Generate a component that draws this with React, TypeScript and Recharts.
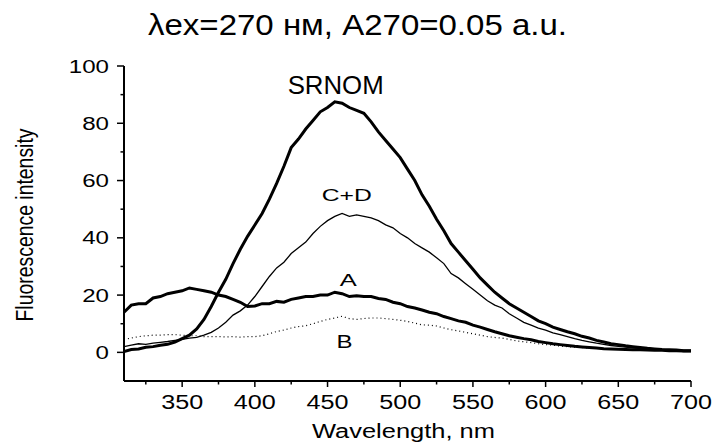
import React from "react";
import { LineChart, Line, XAxis, YAxis, ReferenceDot } from "recharts";

const wavelengths = [
  310, 315, 320, 325, 330, 335, 340, 345, 350, 355,
  360, 365, 370, 375, 380, 385, 390, 395, 400, 405,
  410, 415, 420, 425, 430, 435, 440, 445, 450, 455,
  460, 465, 470, 475, 480, 485, 490, 495, 500, 505,
  510, 515, 520, 525, 530, 535, 540, 545, 550, 555,
  560, 565, 570, 575, 580, 585, 590, 595, 600, 605,
  610, 615, 620, 625, 630, 635, 640, 645, 650, 655,
  660, 665, 670, 675, 680, 685, 690, 695, 700,
];

const srnom = [
  0.3, 1.0, 1.2, 1.8, 2.0, 2.5, 2.8, 3.6, 4.8, 6.0,
  8.2, 11.5, 16.0, 21.0, 25.5, 31.0, 36.0, 40.5, 44.5, 48.5,
  53.5, 59.0, 65.0, 71.5, 74.5, 78.0, 81.0, 84.0, 85.5, 87.5,
  87.0, 85.5, 84.5, 83.5, 80.5, 77.0, 74.0, 71.0, 68.0, 64.0,
  60.0, 55.0, 51.0, 46.5, 42.5, 38.0, 35.0, 32.0, 29.0, 26.0,
  23.5, 21.0, 19.0, 17.0, 15.5, 14.0, 12.5, 11.0, 10.0, 8.8,
  8.0, 7.2, 6.5, 5.6, 5.0, 4.2, 3.6, 3.0, 2.7, 2.3,
  2.0, 1.7, 1.4, 1.2, 1.0, 0.9, 0.8, 0.6, 0.6,
];

const cd = [
  2.0, 2.5, 3.0, 2.8, 3.2, 3.5, 3.8, 4.2, 4.5, 5.0,
  5.2, 6.0, 7.0, 8.5, 10.5, 13.0, 14.5, 16.5, 19.5, 23.0,
  26.5, 29.5, 31.5, 34.5, 36.5, 38.5, 41.5, 44.0, 46.0, 47.5,
  48.5, 47.5, 48.0, 47.5, 47.0, 46.0, 44.5, 43.5, 41.5, 40.0,
  38.0, 36.5, 35.0, 33.0, 31.0, 27.5, 26.0, 24.0, 22.0, 20.0,
  18.0, 16.5, 15.5, 13.5, 12.0, 10.5, 9.5, 8.5, 7.8, 6.8,
  6.2, 5.5, 4.8, 4.2, 3.7, 3.2, 2.8, 2.4, 2.1, 1.8,
  1.6, 1.4, 1.2, 1.0, 0.9, 0.8, 0.7, 0.6, 0.6,
];

const fracA = [
  14.0, 16.5, 17.0, 17.0, 19.0, 19.5, 20.5, 21.0, 21.5, 22.5,
  22.0, 21.5, 21.0, 20.0, 19.5, 18.5, 17.5, 16.0, 16.2, 17.0,
  17.0, 17.8, 17.5, 18.5, 19.0, 19.5, 19.5, 20.0, 20.0, 21.0,
  20.5, 19.5, 19.8, 19.5, 19.5, 18.8, 18.5, 17.5, 17.0, 16.0,
  15.5, 14.8, 14.0, 13.5, 12.5, 11.8, 11.0, 10.5, 9.5, 8.8,
  8.0, 7.2, 6.5, 5.8, 5.3, 4.8, 4.4, 3.8, 3.4, 3.0,
  2.7, 2.4, 2.1, 1.9, 1.7, 1.5, 1.3, 1.2, 1.1, 1.0,
  0.9, 0.9, 0.8, 0.7, 0.7, 0.6, 0.6, 0.5, 0.5,
];

const fracB = [
  4.5, 5.0, 5.5, 5.8, 6.0, 6.0, 6.2, 6.2, 6.0, 5.8,
  5.8, 5.5, 5.5, 5.5, 5.4, 5.5, 5.3, 5.5, 5.5, 5.8,
  6.5, 7.3, 7.8, 8.5, 9.0, 9.3, 10.0, 10.8, 11.5, 12.0,
  12.6, 11.8, 11.5, 11.8, 12.0, 12.0, 11.8, 11.5, 11.2, 10.8,
  10.2, 9.6, 9.5, 9.2, 8.5, 7.9, 7.5, 7.0, 6.5, 6.0,
  5.5, 5.2, 5.0, 4.5, 4.0, 3.7, 3.4, 3.0, 2.7, 2.5,
  2.2, 2.0, 1.8, 1.7, 1.5, 1.4, 1.3, 1.2, 1.1, 1.0,
  0.9, 0.9, 0.8, 0.7, 0.7, 0.6, 0.6, 0.5, 0.5,
];

const xTicks = [325, 350, 375, 400, 425, 450, 475, 500, 525, 550, 575, 600, 625, 650, 675, 700];
const xLabeled = [350, 400, 450, 500, 550, 600, 650, 700];
const yTicks = [0, 10, 20, 30, 40, 50, 60, 70, 80, 90, 100];
const yLabeled = [0, 20, 40, 60, 80, 100];

const titleText = "λex=270 нм,  A270=0.05 a.u.";
const xTitle = "Wavelength, nm";
const yTitle = "Fluorescence intensity";

const annotations = [
  { x: 455.6, y: 90.2, text: "SRNOM", size: 26, len: 96 },
  { x: 463.2, y: 53.0, text: "C+D", size: 17, len: 50 },
  { x: 464.3, y: 23.2, text: "A", size: 17, len: 17 },
  { x: 461.7, y: 1.6, text: "B", size: 18, len: 16 },
];

const data = wavelengths.map((w, i) => ({
  w,
  srnom: srnom[i],
  cd: cd[i],
  a: fracA[i],
  b: fracB[i],
}));

const FONT = "'Liberation Sans', Arial, sans-serif";

const XTick = (props: any) => {
  const { x, y, payload } = props;
  const major = xLabeled.includes(payload.value);
  const s = String(payload.value);
  return (
    <g>
      <line x1={x} x2={x} y1={y} y2={y + (major ? 6 : 3.5)} stroke="#000" strokeWidth={1.5} />
      {major && (
        <text
          x={x}
          y={y + 28}
          textAnchor="middle"
          fontFamily={FONT}
          fontSize={19.5}
          fill="#000"
          textLength={s.length * 14}
          lengthAdjust="spacingAndGlyphs"
        >
          {s}
        </text>
      )}
    </g>
  );
};

const YTick = (props: any) => {
  const { x, y, payload } = props;
  const major = yLabeled.includes(payload.value);
  const s = String(payload.value);
  return (
    <g>
      <line x1={x} x2={x - (major ? 7 : 3.5)} y1={y} y2={y} stroke="#000" strokeWidth={1.5} />
      {major && (
        <text
          x={x - 15}
          y={y + 6.5}
          textAnchor="end"
          fontFamily={FONT}
          fontSize={18}
          fill="#000"
          textLength={s.length * 13.4}
          lengthAdjust="spacingAndGlyphs"
        >
          {s}
        </text>
      )}
    </g>
  );
};

export default function App() {
  return (
    <div style={{ position: "absolute", left: 0, top: 0, width: 714, height: 443, background: "#fff" }}>
      <LineChart
        width={714}
        height={443}
        data={data}
        margin={{ top: 66, right: 23, bottom: 0, left: 0 }}
        style={{ fontFamily: FONT }}
      >
        <text
          x={357.5}
          y={35}
          textAnchor="middle"
          fontFamily={FONT}
          fontSize={30}
          fill="#000"
          textLength={419}
          lengthAdjust="spacingAndGlyphs"
        >
          {titleText}
        </text>
        <text
          x={403.5}
          y={438}
          textAnchor="middle"
          fontFamily={FONT}
          fontSize={20}
          fill="#000"
          textLength={183}
          lengthAdjust="spacingAndGlyphs"
        >
          {xTitle}
        </text>
        <text
          transform="translate(33,225) rotate(-90)"
          x={0}
          y={0}
          textAnchor="middle"
          fontFamily={FONT}
          fontSize={23}
          fill="#000"
          textLength={193}
          lengthAdjust="spacingAndGlyphs"
        >
          {yTitle}
        </text>
        <XAxis
          dataKey="w"
          type="number"
          domain={[310, 700]}
          ticks={xTicks}
          height={62}
          tickSize={0}
          tickMargin={0}
          tickLine={false}
          tick={<XTick />}
          axisLine={{ stroke: "#000", strokeWidth: 2 }}
          interval={0}
          allowDataOverflow
        />
        <YAxis
          type="number"
          domain={[-10, 100]}
          ticks={yTicks}
          width={124}
          tickSize={0}
          tickMargin={0}
          tickLine={false}
          tick={<YTick />}
          axisLine={{ stroke: "#000", strokeWidth: 2 }}
          interval={0}
          allowDataOverflow
        />
        <Line dataKey="b" type="linear" stroke="#000" strokeWidth={1.2} strokeDasharray="1 3" dot={false} isAnimationActive={false} />
        <Line dataKey="cd" type="linear" stroke="#000" strokeWidth={1.3} dot={false} isAnimationActive={false} />
        <Line dataKey="a" type="linear" stroke="#000" strokeWidth={3} dot={false} isAnimationActive={false} />
        <Line dataKey="srnom" type="linear" stroke="#000" strokeWidth={3} dot={false} isAnimationActive={false} />
        {annotations.map((an) => (
          <ReferenceDot
            key={an.text}
            x={an.x}
            y={an.y}
            r={0}
            fill="none"
            stroke="none"
            ifOverflow="visible"
            label={(p: any) => {
              const vb = p.viewBox || {};
              const cx = (vb.x ?? 0) + (vb.width ?? 0) / 2;
              const cy = (vb.y ?? 0) + (vb.height ?? 0) / 2;
              return (
                <text
                  x={cx}
                  y={cy}
                  textAnchor="middle"
                  fontFamily={FONT}
                  fontSize={an.size}
                  fill="#000"
                  textLength={an.len}
                  lengthAdjust="spacingAndGlyphs"
                >
                  {an.text}
                </text>
              );
            }}
          />
        ))}
      </LineChart>
    </div>
  );
}
